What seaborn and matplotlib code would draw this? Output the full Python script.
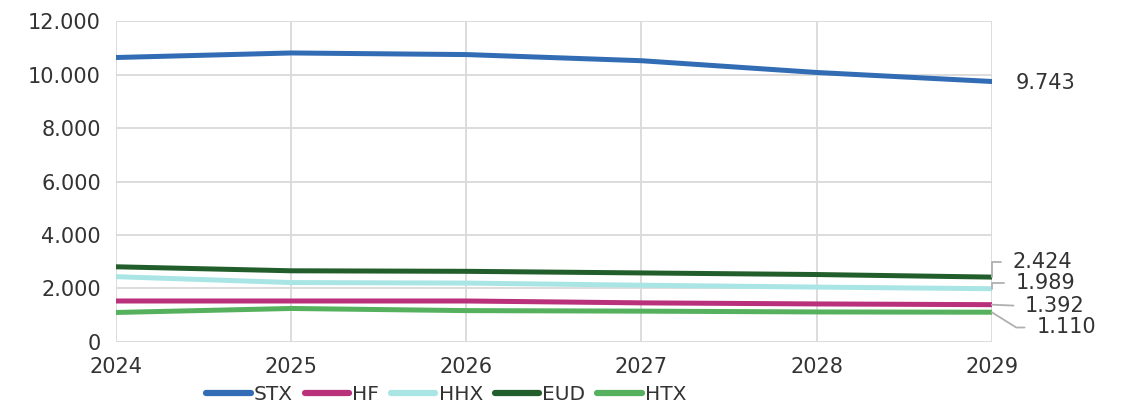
import pandas as pd
import numpy as np
import seaborn as sns
import matplotlib.pyplot as plt
from matplotlib.ticker import FuncFormatter
from matplotlib.lines import Line2D

years = [2024, 2025, 2026, 2027, 2028, 2029]
stx = [10640, 10810, 10750, 10520, 10080, 9743]
hf = [1530, 1530, 1530, 1460, 1420, 1392]
hhx = [2440, 2220, 2200, 2120, 2050, 1989]
eud = [2810, 2660, 2640, 2580, 2520, 2424]
htx = [1100, 1250, 1170, 1150, 1120, 1110]

series_names = ["STX", "HF", "HHX", "EUD", "HTX"]
colors = ["#316cb4", "#b9307b", "#aae5e5", "#225e2b", "#55b15d"]

df = pd.DataFrame({"year": years, "STX": stx, "HF": hf, "HHX": hhx, "EUD": eud, "HTX": htx})
long_df = df.melt(id_vars="year", var_name="serie", value_name="value")

sns.set_theme(style="whitegrid")
plt.rcParams['font.family'] = ['DejaVu Sans']

fig, ax = plt.subplots(figsize=(11.27, 4.07), dpi=100)
fig.subplots_adjust(left=0.103, right=0.880, top=0.948, bottom=0.160)

sns.lineplot(data=long_df, x="year", y="value", hue="serie", hue_order=series_names,
             palette=colors, linewidth=3.6, ax=ax, legend=False,
             solid_capstyle='round')

ax.set_xlim(2024, 2029)
ax.set_ylim(0, 12000)
ax.set_xticks(years)
ax.set_yticks(range(0, 12001, 2000))
ax.yaxis.set_major_formatter(FuncFormatter(lambda v, p: f"{int(v):,}".replace(",", ".")))
ax.set_xlabel("")
ax.set_ylabel("")
ax.grid(True, color="#d9d9d9", linewidth=1.3)
for s in ax.spines.values():
    s.set_visible(False)
fs = 15
ax.tick_params(axis='both', colors='#333333', labelsize=fs, length=0)
ax.tick_params(axis='x', pad=11)
ax.tick_params(axis='y', pad=11)

# end-of-line value labels (offsets in points)
lead = dict(arrowstyle='-', color='#b0b0b0', lw=1.3, shrinkA=6, shrinkB=0)
ax.annotate("9.743", xy=(2029, stx[-1]), xytext=(17, -1), textcoords='offset points',
            va='center', ha='left', fontsize=fs, color='#333333')
ax.annotate("2.424", xy=(2029, eud[-1]), xytext=(15, 11), textcoords='offset points',
            va='center', ha='left', fontsize=fs, color='#333333',
            arrowprops=dict(lead, relpos=(0, 0.5), connectionstyle='angle,angleA=0,angleB=90,rad=0'))
ax.annotate("1.989", xy=(2029, hhx[-1]), xytext=(17, 4), textcoords='offset points',
            va='center', ha='left', fontsize=fs, color='#333333',
            arrowprops=dict(lead, relpos=(0, 0.5), connectionstyle='angle,angleA=0,angleB=90,rad=0'))
ax.annotate("1.392", xy=(2029, hf[-1]), xytext=(24, -1), textcoords='offset points',
            va='center', ha='left', fontsize=fs, color='#333333',
            arrowprops=dict(lead, relpos=(0, 0.5)))
ax.annotate("1.110", xy=(2029, htx[-1]), xytext=(32, -11), textcoords='offset points',
            va='center', ha='left', fontsize=fs, color='#333333',
            arrowprops=dict(lead, relpos=(0, 0.5), connectionstyle='angle,angleA=0,angleB=-32,rad=0'))

handles = [Line2D([0], [0], color=c, lw=4.5, solid_capstyle='round') for c in colors]
fig.legend(handles, series_names, loc='center', bbox_to_anchor=(0.396, 0.03), ncol=5,
           frameon=False, fontsize=14.5, handlelength=2.2, handletextpad=0.15,
           columnspacing=0.6, labelcolor='#333333')

fig.savefig("out.png", dpi=100)
